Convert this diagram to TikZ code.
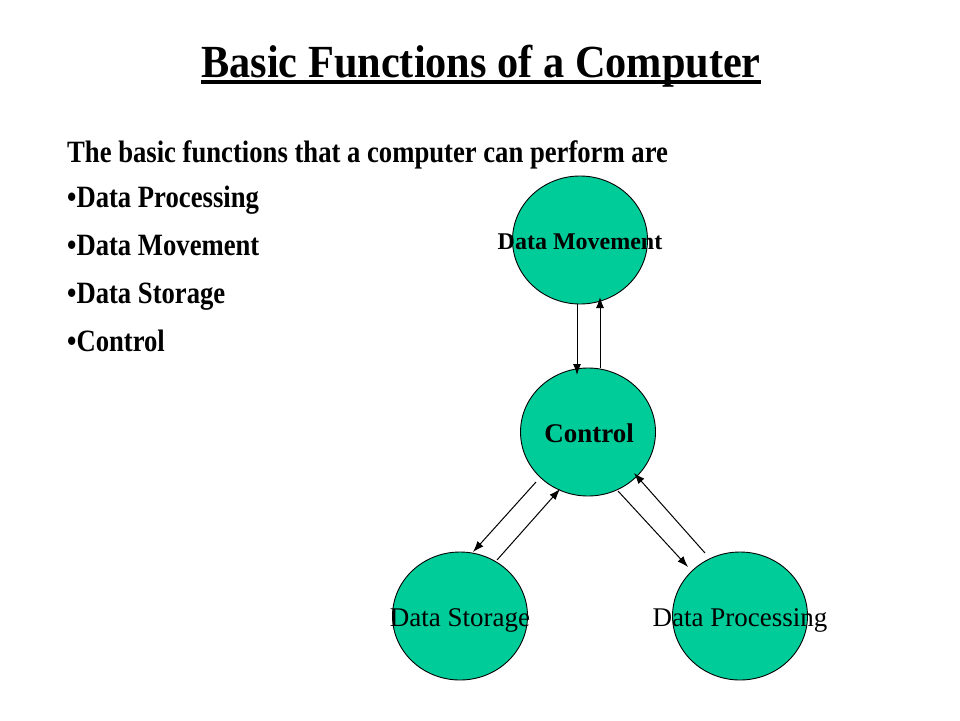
\documentclass[tikz,border=0pt]{standalone}
\usepackage{fontspec}
\setmainfont{Liberation Serif}
\newfontfamily\slidefont{Liberation Serif}[FakeStretch=0.86]
\newfontfamily\titlefont{Liberation Serif}[FakeStretch=0.92]
\usetikzlibrary{shapes.geometric,calc,arrows.meta}
\definecolor{funcgreen}{RGB}{0,204,153}
\begin{document}
\begin{tikzpicture}[x=1pt,y=-1pt,
    func/.style={ellipse,draw=black,line width=0.9pt,fill=funcgreen,minimum width=135pt,minimum height=128pt,inner sep=0pt},
    bodytxt/.style={anchor=base west,inner sep=0pt,font=\slidefont\bfseries\fontsize{31}{36}\selectfont},
    flow/.style={line width=1pt,-{Latex[length=11pt,width=8pt]}}]
        \useasboundingbox (0,0) rectangle (960,720);

        % Title
        \node[anchor=base,inner sep=0pt,font=\titlefont\bfseries\fontsize{46}{52}\selectfont] (title) at (481,77) {Basic Functions of a Computer};
        \draw[line width=3.5pt] ($(title.base west)+(0,5)$) -- ($(title.base east)+(0,5)$);

        % Text on the left
        \node[bodytxt] (intro) at (67,162) {The basic functions that a computer can perform are};
        \node[bodytxt] (b1) at (67,207) {\textbullet Data Processing};
        \node[bodytxt] (b2) at (67,255) {\textbullet Data Movement};
        \node[bodytxt] (b3) at (67,303) {\textbullet Data Storage};
        \node[bodytxt] (b4) at (67,351) {\textbullet Control};

        % The four functions
        \node[func] (mov) at (580,240) {};
        \node[func] (ctl) at (588,432) {};
        \node[func] (sto) at (460,616) {};
        \node[func] (pro) at (740,616) {};

        \node[anchor=base,inner sep=0pt,font=\bfseries\fontsize{24}{28}\selectfont] (movlbl) at ($(mov)+(0,9)$) {Data Movement};
        \node[anchor=base,inner sep=0pt,font=\bfseries\fontsize{27}{32}\selectfont] (ctllbl) at ($(ctl)+(1,10)$) {Control};
        \node[anchor=base,inner sep=0pt,font=\fontsize{27}{32}\selectfont] (stolbl) at ($(sto)+(0,10)$) {Data Storage};
        \node[anchor=base,inner sep=0pt,font=\fontsize{27}{32}\selectfont] (prolbl) at ($(pro)+(0,10)$) {Data Processing};

        % Arrows between them
        \draw[flow] ($(mov)+(-3,64)$) -- ($(ctl)+(-11,-57)$);
        \draw[flow] ($(ctl)+(12,-64)$) -- ($(mov)+(20,57)$);
        \draw[flow] ($(ctl)+(-52,50)$) -- ($(sto)+(13,-64)$);
        \draw[flow] ($(sto)+(37,-56)$) -- ($(ctl)+(-28,57)$);
        \draw[flow] ($(ctl)+(30,59)$) -- ($(pro)+(-52,-49)$);
        \draw[flow] ($(pro)+(-35,-63)$) -- ($(ctl)+(46,41)$);
    \end{tikzpicture}
\end{document}
